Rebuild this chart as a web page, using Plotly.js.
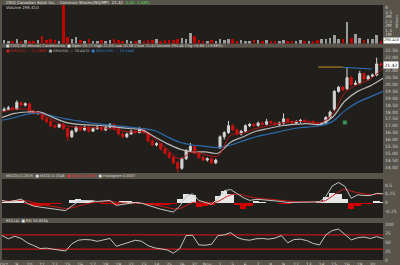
<!DOCTYPE html>
<html>
<head>
<meta charset="utf-8">
<script src="https://cdn.plot.ly/plotly-3.0.1.min.js"></script>
<style>
html,body{margin:0;padding:0;background:#58544b;}
#chart{width:400px;height:265px;}
</style>
</head>
<body>
<div id="chart"></div>
<script>
// ---------- DATA ----------
const dayLabels = ["Oct","9","10","11","12","15","16","17","18","19","22","23","24","25","26","31",
  "Nov","2","5","6","7","8","9","12","13","14","15","16","19","20"];
const barsPerDay = 3;

const open = [18.1,18.2,18.3,18.2,18.7,18.5,18.6,18.0,17.9,17.95,
17.5,17.3,17.0,16.9,17.1,16.8,16.2,16.6,16.9,16.7,
16.9,16.6,16.8,16.9,16.7,16.9,17.1,16.8,16.4,16.2,
16.4,16.6,16.5,16.8,16.5,15.9,15.6,15.7,15.3,15.0,
14.7,14.3,13.9,14.6,15.2,15.5,15.0,14.7,14.5,14.6,
14.3,15.4,16.2,16.5,17.0,16.7,16.4,16.6,17.0,17.1,
17.0,17.2,17.1,17.3,17.2,17.1,17.2,17.5,17.3,17.2,
17.3,17.4,17.3,17.3,17.2,17.1,17.2,17.6,18.2,19.5,
19.8,19.7,20.5,20.0,20.1,20.8,20.4,20.6,20.7,21.5];
const high = [18.35,18.45,18.4,18.85,18.75,18.7,18.65,18.1,18.05,18.0,
17.6,17.4,17.1,17.2,17.2,16.85,16.7,17.0,16.95,17.0,
16.95,16.9,17.0,16.95,16.95,17.2,17.15,16.9,16.5,16.5,
16.7,16.7,16.9,16.85,16.55,16.0,15.8,15.75,15.4,15.1,
14.8,14.4,14.7,15.3,15.75,15.6,15.1,14.8,14.7,14.7,
14.6,16.3,16.6,17.35,17.1,16.8,16.7,17.1,17.2,17.2,
17.3,17.3,17.5,17.4,17.3,17.3,17.9,17.55,17.4,17.4,
17.5,17.45,17.4,17.4,17.3,17.25,17.7,18.1,19.6,19.9,
19.9,21.2,20.6,20.3,21.0,20.85,20.7,20.8,21.95,21.6];
const low = [18.0,18.1,18.1,18.15,18.4,18.4,17.9,17.8,17.8,17.4,
17.2,16.9,16.8,16.85,16.7,15.9,16.1,16.5,16.6,16.6,
16.5,16.55,16.7,16.6,16.6,16.8,16.7,16.3,16.1,16.1,
16.35,16.4,16.45,16.4,15.8,15.5,15.5,15.2,14.9,14.6,
14.2,13.6,13.8,14.5,15.1,14.9,14.6,14.4,14.4,14.2,
14.2,15.3,16.0,16.4,16.6,16.3,16.3,16.5,16.9,16.9,
16.95,17.0,17.05,17.1,17.0,17.0,17.1,17.2,17.1,17.1,
17.2,17.2,17.2,17.1,17.0,17.0,17.1,17.5,18.1,19.4,
19.5,19.6,19.9,19.9,20.0,20.3,20.3,20.5,20.6,21.3];
const close = [18.2,18.3,18.2,18.7,18.5,18.6,18.0,17.9,17.95,17.5,
17.3,17.0,16.9,17.1,16.8,16.2,16.6,16.9,16.7,16.9,
16.6,16.8,16.9,16.7,16.9,17.1,16.8,16.4,16.2,16.4,
16.6,16.5,16.8,16.5,15.9,15.6,15.7,15.3,15.0,14.7,
14.3,13.9,14.6,15.2,15.5,15.0,14.7,14.5,14.6,14.3,
14.5,16.2,16.5,17.0,16.7,16.4,16.6,17.0,17.1,17.0,
17.2,17.1,17.3,17.2,17.1,17.2,17.5,17.3,17.2,17.3,
17.4,17.3,17.3,17.2,17.1,17.2,17.6,18.0,19.5,19.8,
19.6,20.5,20.0,20.1,20.8,20.4,20.6,20.7,21.5,21.42];
// volume in millions
const volume = [0.35,0.25,0.3,0.45,0.3,0.35,0.3,0.25,0.4,0.8,
0.4,0.5,0.35,0.3,4.3,0.75,0.5,0.7,0.35,0.3,
0.45,0.3,0.25,0.35,0.3,0.4,0.45,0.35,0.3,0.4,
0.3,0.25,0.35,0.3,0.4,0.35,0.45,0.3,0.35,0.4,
0.35,0.5,0.6,0.45,1.2,0.8,0.35,0.25,0.3,0.35,
0.3,0.55,0.4,0.45,0.55,0.3,0.35,0.3,0.25,0.35,
0.4,0.3,0.35,0.3,0.25,0.3,0.4,0.3,0.25,0.3,
0.35,0.3,0.25,0.3,0.35,0.5,0.45,0.6,1.0,0.55,
0.5,2.4,0.6,1.1,0.6,0.4,0.45,0.5,1.0,0.295];

// moving averages, one value per trading day start
const emaFast = [18.0,18.2,18.2,17.9,17.4,17.0,16.9,16.85,16.85,16.7,16.55,16.55,16.1,15.3,14.6,15.1,14.9,14.8,16.3,16.45,16.8,17.0,17.2,17.3,17.3,17.2,17.8,19.4,20.0,20.4,21.2];
const emaMid  = [17.6,17.9,18.0,18.0,17.6,17.25,17.1,17.05,17.0,16.9,16.8,16.7,16.2,15.7,15.3,15.1,15.1,15.0,15.8,16.2,16.6,16.8,17.0,17.1,17.15,17.1,17.6,18.8,19.5,19.9,20.45];
const emaSlow = [17.4,17.6,17.85,17.9,17.7,17.5,17.35,17.2,17.1,17.0,16.9,16.8,16.65,16.2,15.8,15.6,15.5,15.4,15.6,15.9,16.2,16.4,16.6,16.8,16.9,17.0,17.3,18.1,18.7,19.1,19.5];

// MACD / RSI, two values per trading day
const macdLine = [0.06,0.02,0.05,0.10,-0.03,-0.10,-0.13,-0.16,-0.18,-0.21,-0.23,-0.10,0.03,0.05,0.06,0.03,0.04,0.06,-0.08,-0.06,-0.03,0.00,-0.02,-0.08,-0.15,-0.19,-0.23,-0.27,-0.10,0.18,0.25,0.06,0.00,-0.05,0.12,0.34,0.37,0.25,0.14,0.06,0.09,0.08,0.07,0.05,0.03,0.00,0.00,0.01,0.00,0.01,0.02,0.17,0.47,0.57,0.46,0.12,0.22,0.20,0.20,0.26,0.25];
const signalLine = [0.04,0.04,0.05,0.06,0.04,0.00,-0.04,-0.08,-0.11,-0.14,-0.17,-0.15,-0.10,-0.05,-0.01,0.01,0.02,0.03,0.01,-0.01,-0.02,-0.02,-0.02,-0.04,-0.07,-0.10,-0.14,-0.18,-0.17,-0.09,0.00,0.02,0.02,0.00,0.03,0.13,0.22,0.24,0.21,0.16,0.13,0.11,0.10,0.08,0.06,0.04,0.03,0.02,0.02,0.02,0.02,0.06,0.18,0.30,0.38,0.32,0.28,0.25,0.23,0.24,0.25];
const histogram = [0.02,0.05,0.07,0.06,-0.05,-0.09,-0.10,-0.06,-0.03,-0.03,-0.02,0.06,0.10,0.08,0.05,-0.02,-0.05,-0.03,-0.07,0.03,0.04,0.02,-0.04,-0.06,-0.08,-0.07,-0.06,-0.05,0.10,0.25,0.22,-0.12,-0.10,-0.06,0.20,0.33,0.25,-0.08,-0.17,-0.10,0.03,0.02,-0.01,-0.02,-0.03,-0.04,-0.02,0.00,-0.01,-0.01,0.03,0.15,0.27,0.25,0.10,-0.18,-0.10,-0.05,-0.03,0.04,0.02];
const rsi = [68,59,66,60,48,40,32,33,30,29,25,45,55,57,56,52,55,60,38,43,50,55,52,40,34,30,28,19,32,68,69,42,41,44,68,70,76,63,57,55,59,60,58,61,68,48,57,58,54,46,42,70,82,86,72,56,62,64,60,65,60];
const rsiLevels = [70, 30];

// drawn resistance lines and event marker (trading-day units, price)
const resistOrangeX = [24.9, 26.85], resistOrangeY = [21.27, 21.27];
const resistBlueX = [26.85, 29.13], resistBlueY = [21.25, 21.13];
const eventX = [27.0], eventY = [17.24];

// ---------- BUILD ----------
const barT = close.map((_, i) => (i + 0.5) / barsPerDay);
const dayT = emaFast.map((_, i) => i);
const halfT = macdLine.map((_, i) => i / 2);
const UP = '#d4d4d4', DN = '#cc1111';
const volColors = close.map((c, i) => c >= open[i] ? '#9c9c9c' : '#c00000');
const histColors = histogram.map(v => v >= 0 ? '#e6e6e6' : '#d00000');

const traces = [
  {type:'bar', x:barT, y:volume, xaxis:'x', yaxis:'y', width:0.2,
   marker:{color:volColors, line:{width:0}}, hoverinfo:'skip'},
  {type:'candlestick', x:barT, open:open, high:high, low:low, close:close, xaxis:'x', yaxis:'y2',
   increasing:{line:{color:UP, width:1}, fillcolor:UP},
   decreasing:{line:{color:DN, width:1}, fillcolor:DN}, whiskerwidth:0, hoverinfo:'skip'},
  {type:'scatter', mode:'lines', x:dayT, y:emaSlow, xaxis:'x', yaxis:'y2', line:{color:'#2c6db3', width:1.2, shape:'spline'}},
  {type:'scatter', mode:'lines', x:dayT, y:emaMid, xaxis:'x', yaxis:'y2', line:{color:'#b9b9b9', width:1.2, shape:'spline'}},
  {type:'scatter', mode:'lines', x:dayT, y:emaFast, xaxis:'x', yaxis:'y2', line:{color:'#b01818', width:1, shape:'spline'}},
  {type:'scatter', mode:'lines', x:resistOrangeX, y:resistOrangeY, xaxis:'x', yaxis:'y2', line:{color:'#c8902a', width:1}},
  {type:'scatter', mode:'lines', x:resistBlueX, y:resistBlueY, xaxis:'x', yaxis:'y2', line:{color:'#2f72c0', width:1}},
  {type:'scatter', mode:'markers', x:eventX, y:eventY, xaxis:'x', yaxis:'y2',
   marker:{symbol:'square', size:4, color:'#3f9a5a', line:{color:'#204a30', width:0.5}}},
  {type:'bar', x:halfT, y:histogram, xaxis:'x', yaxis:'y3', width:0.5,
   marker:{color:histColors, line:{width:0}}},
  {type:'scatter', mode:'lines', x:halfT, y:signalLine, xaxis:'x', yaxis:'y3', line:{color:'#c81a1a', width:1, shape:'spline'}},
  {type:'scatter', mode:'lines', x:halfT, y:macdLine, xaxis:'x', yaxis:'y3', line:{color:'#c4c4c4', width:1}},
  {type:'scatter', mode:'lines', x:[0, dayLabels.length], y:[rsiLevels[0], rsiLevels[0]], xaxis:'x', yaxis:'y4', line:{color:'#c41414', width:1.3}},
  {type:'scatter', mode:'lines', x:[0, dayLabels.length], y:[rsiLevels[1], rsiLevels[1]], xaxis:'x', yaxis:'y4', line:{color:'#c41414', width:1.3}},
  {type:'scatter', mode:'lines', x:halfT, y:rsi, xaxis:'x', yaxis:'y4', line:{color:'#c4c4c4', width:1}}
];

const H = 260; // paper height in px
const py = px => 1 - px / H;
const axFont = {family:'DejaVu Sans', size:4.5, color:'#cfcfcf'};
const baseY = {side:'right', anchor:'x', showgrid:false, zeroline:false, ticks:'', fixedrange:true,
  tickfont:axFont, showline:false, ticklabelstandoff:1};

const layout = {
  width:400, height:265,
  margin:{l:2, r:17, t:0, b:5, pad:0},
  paper_bgcolor:'#58544b', plot_bgcolor:'#211f1b',
  showlegend:false, bargap:0,
  font:{family:'DejaVu Sans', size:4.5, color:'#cfcfcf'},
  xaxis:{domain:[0,1], range:[0, dayLabels.length], anchor:'y4', showgrid:false, zeroline:false,
    tickvals:dayLabels.map((_, i) => i), ticktext:dayLabels, ticks:'', tickfont:axFont,
    rangeslider:{visible:false}, ticklabelshift:2, ticklabelstandoff:0},
  yaxis: Object.assign({}, baseY, {domain:[py(43.5), py(5)], range:[0, 4.28],
    tickvals:[1,1.5,2,2.5,3,3.5,4], ticktext:['1M','1.5','2M','2.5','3M','3.5','4']}),
  yaxis2: Object.assign({}, baseY, {domain:[py(173), py(47.7)], range:[13.56, 22.68],
    dtick:0.5, tick0:13.5, tickformat:'.2f'}),
  yaxis3: Object.assign({}, baseY, {domain:[py(218), py(179)], range:[-0.44, 0.67],
    tickvals:[-0.25,0,0.25,0.5], ticktext:['-0.25','0','0.25','0.5']}),
  yaxis4: Object.assign({}, baseY, {domain:[0, py(223)], range:[0, 103],
    tickvals:[0,25,50,75,100]}),
  annotations:[
    {xref:'paper', yref:'paper', x:0.005, y:py(2.6), xanchor:'left', yanchor:'middle', showarrow:false,
     text:'CSIQ Canadian Solar Inc. - Common Shares(NQ/MP)  21.42  <span style="color:#3fd23f">0.80  3.88%</span>',
     font:{family:'DejaVu Sans', size:4, color:'#e4e4e4'}},
    {xref:'paper', yref:'paper', x:0.005, y:py(7.5), xanchor:'left', yanchor:'middle', showarrow:false,
     text:'Volume 295,410', font:{family:'DejaVu Sans', size:4, color:'#cfcfcf'}},
    {xref:'paper', yref:'paper', x:0.005, y:py(45.6), xanchor:'left', yanchor:'middle', showarrow:false,
     text:'■ CSIQ (60 Minute) Candlesticks  ■ Open 20.77 High 21.95 Low 20.56 Close 21.42 Volume 295.4K Chg +0.80 (+3.88%)',
     font:{family:'DejaVu Sans', size:3.6, color:'#dcdcdc'}},
    {xref:'paper', yref:'paper', x:0.005, y:py(51.5), xanchor:'left', yanchor:'middle', showarrow:false,
     text:'<span style="color:#d02020">■ EMA(20) — 21.0880</span>  <span style="color:#bdbdbd">■ EMA(50) — 20.4470</span>  <span style="color:#3a7fd0">■ EMA(100) — 19.5440</span>',
     font:{family:'DejaVu Sans', size:3.6, color:'#cfcfcf'}},
    {xref:'paper', yref:'paper', x:0.005, y:py(176), xanchor:'left', yanchor:'middle', showarrow:false,
     text:'MACD(12,26,9)  ■ MACD 0.2546  <span style="color:#e03030">■ Signal 0.2509</span>  ■ Histogram 0.0037',
     font:{family:'DejaVu Sans', size:3.6, color:'#dcdcdc'}},
    {xref:'paper', yref:'paper', x:0.005, y:py(220.5), xanchor:'left', yanchor:'middle', showarrow:false,
     text:'RSI(14)  ■ RSI 59.8034', font:{family:'DejaVu Sans', size:3.6, color:'#dcdcdc'}},
    {xref:'paper', yref:'y2', x:1.0, y:close[close.length-1], xanchor:'left', yanchor:'middle', showarrow:false,
     text:String(close[close.length-1].toFixed(2)), bgcolor:'#ffffff', borderpad:0.5,
     font:{family:'DejaVu Sans', size:4.5, color:'#111111'}},
    {xref:'paper', yref:'y', x:1.0, y:volume[volume.length-1], xanchor:'left', yanchor:'middle', showarrow:false,
     text:'295,410', bgcolor:'#ffffff', borderpad:0.3,
     font:{family:'DejaVu Sans', size:3.6, color:'#111111'}},
    {xref:'paper', yref:'paper', x:1.037, y:py(22), xanchor:'center', yanchor:'middle', showarrow:false,
     text:'Millions', textangle:-90, font:{family:'DejaVu Sans', size:3.5, color:'#bdbdbd'}}
  ]
};

Plotly.newPlot('chart', traces, layout, {staticPlot:true, displayModeBar:false});
</script>
</body>
</html>
